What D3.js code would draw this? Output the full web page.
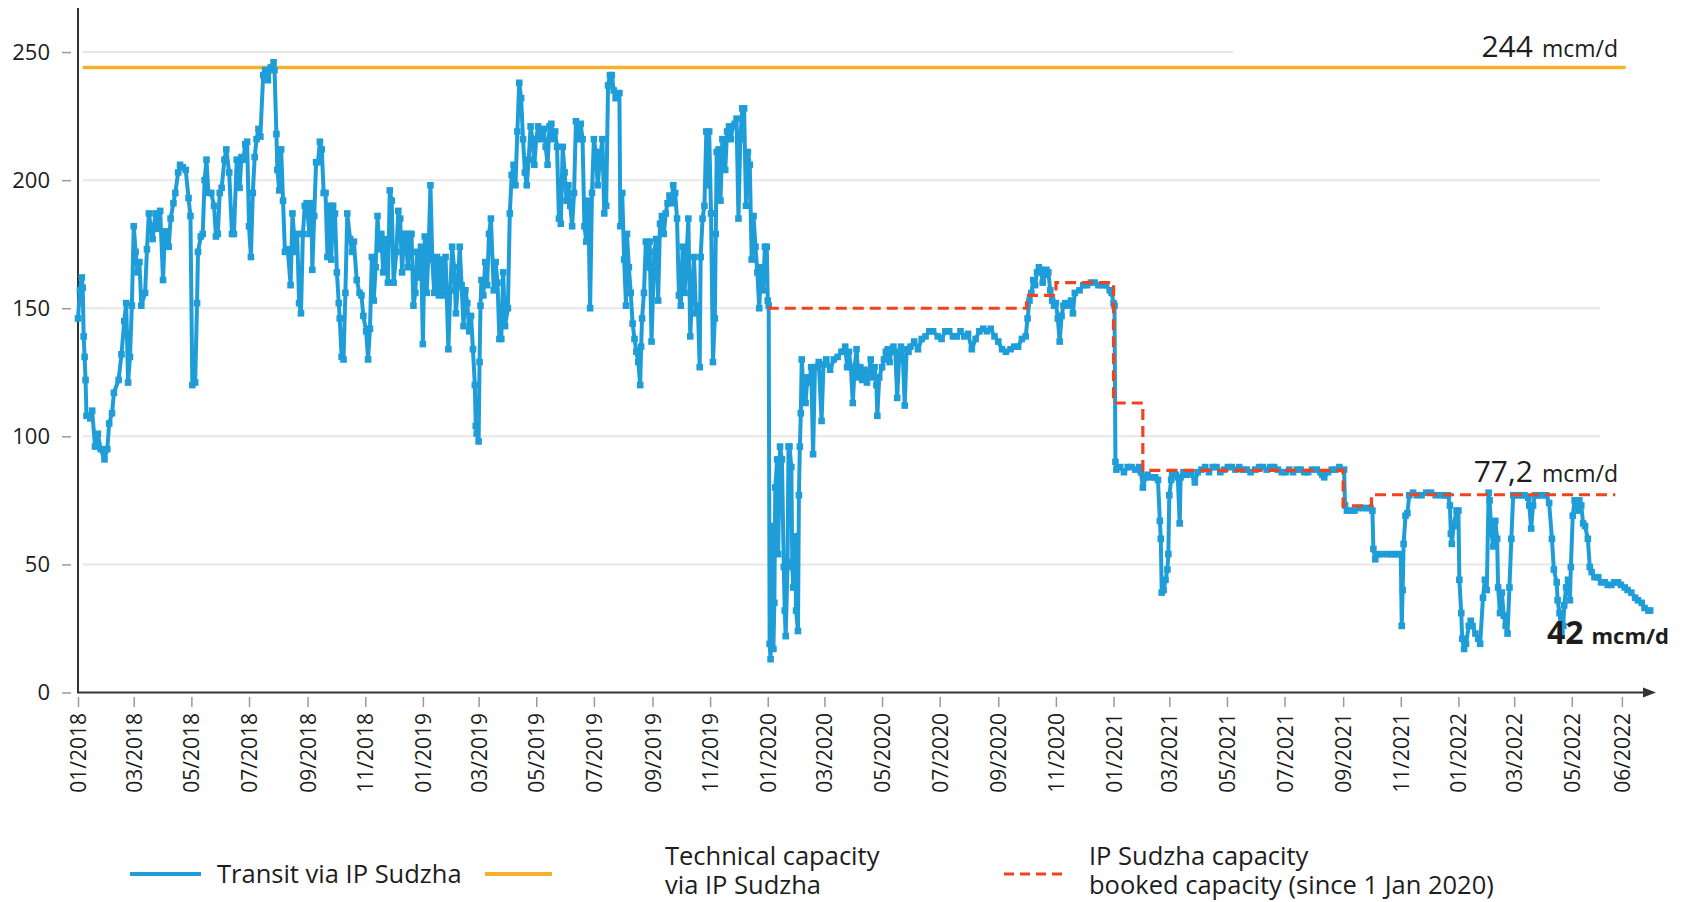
<!DOCTYPE html>
<html><head><meta charset="utf-8">
<script src="https://cdn.jsdelivr.net/npm/d3@7"></script>
<style>
body{margin:0;background:#fff;}
svg{display:block;font-family:"Open Sans",sans-serif;}
</style></head><body>
<svg id="chart" width="1703" height="902"></svg>
<script>
// Transit via IP Sudzha, mcm/d — [days since 2018-01-01, value]
const transit2018 = [[0,146],[2,157],[4,162],[5,158],[6,139],[7,131],[8,122],[9,108],[13,107],[15,110],[18,96],[21,101],[24,95],[28,91],[31,95],[33,105],[36,109],[38,117],[43,122],[46,132],[49,145],[51,152],[53,121],[55,131],[57,151],[59,182],[61,172],[63,164],[65,168],[67,151],[71,156],[73,173],[75,187],[79,177],[82,187],[84,181],[87,188],[90,161],[92,180],[96,174],[98,185],[101,191],[103,195],[106,203],[108,206],[111,205],[114,204],[117,193],[119,186],[121,120],[124,121],[126,152],[127,172],[130,178],[132,179],[134,200],[136,208],[138,195],[141,195],[144,190],[146,178],[148,179],[150,195],[152,197],[155,208],[157,212],[160,203],[163,179],[165,179],[168,208],[171,197],[173,209],[175,208],[177,214],[179,215],[181,182],[183,170],[185,195],[187,209],[189,216],[191,220],[193,217],[196,241],[198,243],[201,239],[204,244],[207,246],[208,243],[210,218],[211,204],[213,196],[215,212],[217,192],[219,172],[222,173],[225,159],[227,187],[230,172],[232,179],[234,152],[236,148],[238,179],[240,190],[242,191],[245,179],[247,191],[248,165],[250,186],[252,207],[254,207],[256,215],[258,212],[260,195],[262,195],[264,170],[266,190],[268,169],[270,190],[272,187],[274,164],[276,152],[277,146],[279,131],[281,130],[283,156],[285,187],[288,177],[290,172],[292,176],[295,161],[298,156],[300,155],[302,147],[305,141],[307,130],[309,142],[311,170],[313,153],[315,166],[317,186],[319,173],[321,179],[323,164],[325,177],[328,160],[330,196],[332,192],[334,160],[337,172],[339,188],[341,185],[343,164],[345,179],[347,179],[349,166],[351,179],[353,179],[355,151],[357,156],[359,172],[361,162],[363,174]];
const transit2019 = [[365,136],[367,178],[369,156],[371,172],[373,198],[375,169],[377,156],[380,170],[382,155],[384,169],[387,155],[389,170],[392,134],[394,157],[396,174],[398,166],[400,148],[402,159],[404,174],[406,159],[408,143],[410,157],[412,152],[414,141],[416,147],[418,134],[420,120],[421,104],[422,101],[424,98],[425,129],[426,151],[427,161],[429,155],[431,168],[433,159],[435,179],[437,185],[440,157],[442,168],[444,160],[446,138],[448,138],[450,164],[452,143],[455,150],[457,187],[459,202],[461,206],[463,198],[465,219],[467,238],[469,232],[471,216],[473,203],[475,198],[477,208],[479,221],[481,216],[483,206],[485,216],[487,221],[489,219],[491,216],[493,220],[495,213],[497,206],[499,221],[501,222],[503,216],[505,219],[507,213],[509,185],[511,183],[513,213],[515,203],[517,192],[519,198],[521,190],[523,182],[525,195],[527,223],[530,216],[532,222],[534,216],[536,182],[538,176],[540,192],[542,150],[544,195],[546,216],[548,211],[550,198],[553,210],[555,216],[557,187],[559,190],[561,237],[563,241],[565,241],[567,235],[569,232],[571,233],[573,234],[574,182],[576,195],[578,169],[580,151],[581,179],[583,166],[585,156],[587,144],[589,138],[591,133],[593,129],[595,120],[596,135],[597,146],[599,156],[601,176],[603,166],[605,176],[607,137],[610,172],[612,177],[614,153],[616,183],[618,186],[620,179],[622,187],[624,191],[626,194],[628,191],[630,198],[632,195],[634,185],[636,155],[638,151],[640,174],[642,156],[644,170],[646,185],[648,139],[650,156],[652,170],[654,148],[656,151],[658,127],[659,170],[661,185],[663,190],[665,219],[667,198],[668,219],[670,187],[672,129],[674,146],[675,179],[676,211],[678,212],[680,192],[682,216],[685,204],[687,219],[689,221],[691,216],[693,221],[695,222],[697,224],[699,185],[701,216],[703,228],[705,228],[707,190],[709,211],[711,206],[713,169],[715,186],[717,174],[719,164],[721,150],[723,166],[725,157],[727,174],[729,174]];
const transit2020 = [[730,153],[731,151],[732,19],[733,13],[734,34],[735,65],[736,17],[737,35],[738,80],[740,91],[741,54],[743,96],[745,91],[747,49],[748,32],[749,22],[751,51],[752,96],[753,96],[755,88],[756,49],[757,41],[759,61],[760,32],[762,24],[763,77],[764,96],[765,109],[766,130],[768,117],[770,113],[772,123],[774,121],[776,127],[778,93],[780,127],[784,129],[787,106],[789,128],[792,130],[796,126],[800,130],[804,131],[808,133],[812,135],[814,127],[816,133],[818,127],[820,113],[822,127],[824,134],[826,123],[828,127],[830,122],[832,126],[835,121],[837,125],[839,130],[841,123],[843,127],[845,120],[846,108],[848,123],[851,127],[853,130],[855,133],[857,134],[859,129],[861,134],[863,135],[865,133],[867,115],[869,130],[871,135],[873,131],[875,112],[877,134],[879,133],[881,135],[885,137],[889,134],[893,138],[897,139],[901,141],[905,141],[910,139],[914,138],[918,141],[922,141],[926,139],[930,139],[934,141],[938,139],[942,140],[946,134],[950,138],[954,141],[958,142],[962,141],[966,142],[970,139],[974,137],[978,134],[982,133],[987,134],[991,135],[995,135],[999,138],[1003,139],[1005,146],[1007,153],[1009,156],[1011,161],[1013,159],[1015,164],[1017,166],[1019,165],[1021,160],[1023,163],[1025,165],[1027,164],[1029,157],[1031,153],[1033,151],[1035,152],[1037,146],[1039,137],[1041,147],[1043,151],[1045,152],[1047,151],[1051,153],[1053,148],[1055,156],[1060,157],[1064,159],[1068,159],[1072,160],[1076,160],[1080,159],[1084,159],[1088,159],[1092,157],[1094,156]];
const transit2021 = [[1096,152],[1097,151],[1098,90],[1099,87],[1103,88],[1107,86],[1111,88],[1115,88],[1119,87],[1123,88],[1125,86],[1127,80],[1130,84],[1132,85],[1136,84],[1140,84],[1143,83],[1145,67],[1146,60],[1147,39],[1149,40],[1151,44],[1153,48],[1154,54],[1155,77],[1157,83],[1158,85],[1160,86],[1162,85],[1164,84],[1166,66],[1167,84],[1170,86],[1174,85],[1178,86],[1182,82],[1185,86],[1189,87],[1193,88],[1197,86],[1201,88],[1205,88],[1209,86],[1213,87],[1217,88],[1221,88],[1225,87],[1229,88],[1233,87],[1237,87],[1241,86],[1246,87],[1250,88],[1254,88],[1258,87],[1262,88],[1266,88],[1270,87],[1274,86],[1278,86],[1282,87],[1286,86],[1290,87],[1294,87],[1298,86],[1302,86],[1306,87],[1311,87],[1315,86],[1317,85],[1319,84],[1323,86],[1327,87],[1331,87],[1335,88],[1340,87],[1341,73],[1343,71],[1347,71],[1351,71],[1355,72],[1360,72],[1364,72],[1368,72],[1370,71],[1371,56],[1373,52],[1376,54],[1380,54],[1386,54],[1390,54],[1393,54],[1397,54],[1400,54],[1401,26],[1402,40],[1403,58],[1405,69],[1407,70],[1409,77],[1413,78],[1417,77],[1422,77],[1427,78],[1432,78],[1437,77],[1443,77],[1447,77],[1450,77],[1452,73],[1453,62],[1454,58],[1456,65],[1459,71]];
const transit2022 = [[1461,71],[1462,44],[1464,31],[1465,21],[1467,17],[1469,19],[1472,26],[1474,28],[1476,26],[1479,23],[1482,21],[1484,19],[1487,37],[1489,44],[1491,40],[1493,78],[1494,75],[1496,62],[1498,57],[1500,67],[1502,60],[1503,41],[1505,31],[1507,39],[1509,30],[1511,26],[1513,23],[1515,41],[1517,60],[1519,77],[1520,77],[1524,77],[1528,77],[1531,77],[1535,76],[1536,73],[1538,64],[1540,73],[1542,77],[1546,77],[1549,77],[1554,77],[1557,74],[1560,60],[1562,48],[1565,43],[1566,36],[1568,31],[1570,23],[1572,26],[1573,34],[1575,41],[1577,44],[1579,36],[1580,49],[1582,69],[1584,75],[1586,74],[1588,71],[1589,75],[1591,73],[1593,66],[1595,65],[1598,60],[1600,49],[1602,47],[1605,45],[1609,45],[1612,43],[1616,43],[1619,42],[1623,42],[1626,43],[1630,43],[1633,42],[1637,41],[1640,40],[1644,39],[1648,37],[1651,36],[1655,35],[1658,33],[1662,32],[1664,32]];

// Booked capacity (step series, since 1 Jan 2020)
const bookedDates = ["2020-01-01","2020-10-01","2020-11-01","2021-01-01","2021-02-01","2021-09-01","2021-10-01","2022-06-16"];
const bookedValues = [150,155,160,113,86.7,72.9,77.2,77.2];

// Technical capacity
const techDates = ["2018-01-06","2022-06-27"];
const techValues = [244,244];

const yTicks = [0,50,100,150,200,250];
const xTickDates = ["2018-01-01","2018-03-01","2018-05-01","2018-07-01","2018-09-01","2018-11-01","2019-01-01","2019-03-01","2019-05-01","2019-07-01","2019-09-01","2019-11-01","2020-01-01","2020-03-01","2020-05-01","2020-07-01","2020-09-01","2020-11-01","2021-01-01","2021-03-01","2021-05-01","2021-07-01","2021-09-01","2021-11-01","2022-01-01","2022-03-01","2022-05-01","2022-06-23"];
const xTickLabels = ["01/2018","03/2018","05/2018","07/2018","09/2018","11/2018","01/2019","03/2019","05/2019","07/2019","09/2019","11/2019","01/2020","03/2020","05/2020","07/2020","09/2020","11/2020","01/2021","03/2021","05/2021","07/2021","09/2021","11/2021","01/2022","03/2022","05/2022","06/2022"];

const labels = {
  tech: ["244", "mcm/d"],
  booked: ["77,2", "mcm/d"],
  last: ["42", "mcm/d"]
};
const legendItems = [
  {key:"transit", lines:["Transit via IP Sudzha"]},
  {key:"tech", lines:["Technical capacity","via IP Sudzha"]},
  {key:"booked", lines:["IP Sudzha capacity","booked capacity (since 1 Jan 2020)"]}
];

const COL = {transit:"#1f9dd9", tech:"#f7b02a", booked:"#f2431f", text:"#1d1d1d", axis:"#333", grid:"#e7e7e7", tick:"#9a9a9a"};

const parse = d3.utcParse("%Y-%m-%d");
const T0 = Date.UTC(2018,0,1);
const dayToDate = d => new Date(T0 + d*864e5);

const transit = [].concat(transit2018, transit2019, transit2020, transit2021, transit2022)
  .map(([d,v]) => ({date: dayToDate(d), value: v}));
const booked = bookedDates.map((d,i) => ({date: parse(d), value: bookedValues[i]}));
const tech = techDates.map((d,i) => ({date: parse(d), value: techValues[i]}));

const svg = d3.select("#chart");
const x = d3.scaleUtc().domain([new Date(T0), new Date(Date.UTC(2022,6,27))]).range([78, 1654]);
const y = d3.scaleLinear().domain([0, 267.2]).range([692.5, 8]);

// gridlines
svg.append("g").selectAll("line").data(yTicks.filter(v => v > 0)).join("line")
  .attr("x1", 83).attr("x2", v => v === 250 ? 1233 : 1600)
  .attr("y1", v => y(v)).attr("y2", v => y(v))
  .attr("stroke", COL.grid).attr("stroke-width", 2);

// y axis ticks & labels
const yAxis = svg.append("g").attr("transform", "translate(71,0)")
  .call(d3.axisLeft(y).tickValues(yTicks).tickSize(9).tickPadding(12).tickFormat(d3.format("d")));
yAxis.select(".domain").remove();
yAxis.selectAll(".tick line").attr("stroke", COL.tick).attr("stroke-width", 1.5);
yAxis.selectAll(".tick text").attr("font-size", 22).attr("fill", COL.text).attr("font-family", "Open Sans");

// x axis ticks & labels
const xAxis = svg.append("g").attr("transform", "translate(0,697)")
  .call(d3.axisBottom(x).tickValues(xTickDates.map(parse)).tickSize(10).tickFormat((d,i) => xTickLabels[i]));
xAxis.select(".domain").remove();
xAxis.selectAll(".tick line").attr("stroke", COL.tick).attr("stroke-width", 1.5);
xAxis.selectAll(".tick text")
  .attr("font-size", 21).attr("fill", COL.text).attr("font-family", "Open Sans")
  .attr("transform", "rotate(-90)").attr("text-anchor", "end")
  .attr("x", -16).attr("y", 0).attr("dy", "0.36em");

// axis lines
svg.append("line").attr("x1", 78).attr("x2", 78).attr("y1", y(0)).attr("y2", y(267.2))
  .attr("stroke", COL.axis).attr("stroke-width", 2);
svg.append("line").attr("x1", 77).attr("x2", 1648).attr("y1", y(0)).attr("y2", y(0))
  .attr("stroke", COL.axis).attr("stroke-width", 2);
svg.append("path").attr("d", `M1643,${y(0)-5}L1656,${y(0)}L1643,${y(0)+5}Z`).attr("fill", COL.axis);

const line = d3.line().x(d => x(d.date)).y(d => y(d.value));

// technical capacity
svg.append("path").datum(tech).attr("d", line).attr("fill", "none")
  .attr("stroke", COL.tech).attr("stroke-width", 3.5);

// transit
svg.append("path").datum(transit).attr("d", line).attr("fill", "none")
  .attr("stroke", COL.transit).attr("stroke-width", 4).attr("stroke-linejoin", "round");
svg.append("g").selectAll("rect").data(transit).join("rect")
  .attr("x", d => x(d.date) - 3.3).attr("y", d => y(d.value) - 3.3)
  .attr("width", 6.6).attr("height", 6.6).attr("fill", COL.transit);

// booked capacity
svg.append("path").datum(booked).attr("d", line.curve(d3.curveStepAfter)).attr("fill", "none")
  .attr("stroke", COL.booked).attr("stroke-width", 3.2).attr("stroke-dasharray", "11,6");

// annotations
function annot(parts, xr, yb, big, small, weight, gap){
  const t = svg.append("text").attr("x", xr).attr("y", yb).attr("text-anchor", "end")
    .attr("fill", COL.text).attr("font-weight", weight);
  t.append("tspan").attr("font-size", big).text(parts[0]);
  t.append("tspan").attr("font-size", small).attr("dx", gap).text(parts[1]);
}
annot(labels.tech, 1618, 57, 30, 23, 400, 9);
annot(labels.booked, 1618, 482, 30, 23, 400, 9);
annot(labels.last, 1669, 644, 32, 22, 700, 8);

// legend
const lg = svg.append("g");
const legendPos = [{x1:130,x2:201,tx:217},{x1:485,x2:552,tx:665},{x1:1004,x2:1064,tx:1089}];
legendItems.forEach((it,i) => {
  const p = legendPos[i];
  lg.append("line").attr("x1", p.x1).attr("x2", p.x2).attr("y1", 874).attr("y2", 874)
    .attr("stroke", COL[it.key]).attr("stroke-width", it.key === "booked" ? 3 : 4)
    .attr("stroke-dasharray", it.key === "booked" ? "10,6" : null);
  it.lines.forEach((s,j) => {
    lg.append("text").attr("fill", COL.text).attr("font-size", 25.5)
      .attr("x", p.tx).attr("y", it.lines.length === 1 ? 883 : 865 + j*29).text(s);
  });
});
</script>
</body></html>
